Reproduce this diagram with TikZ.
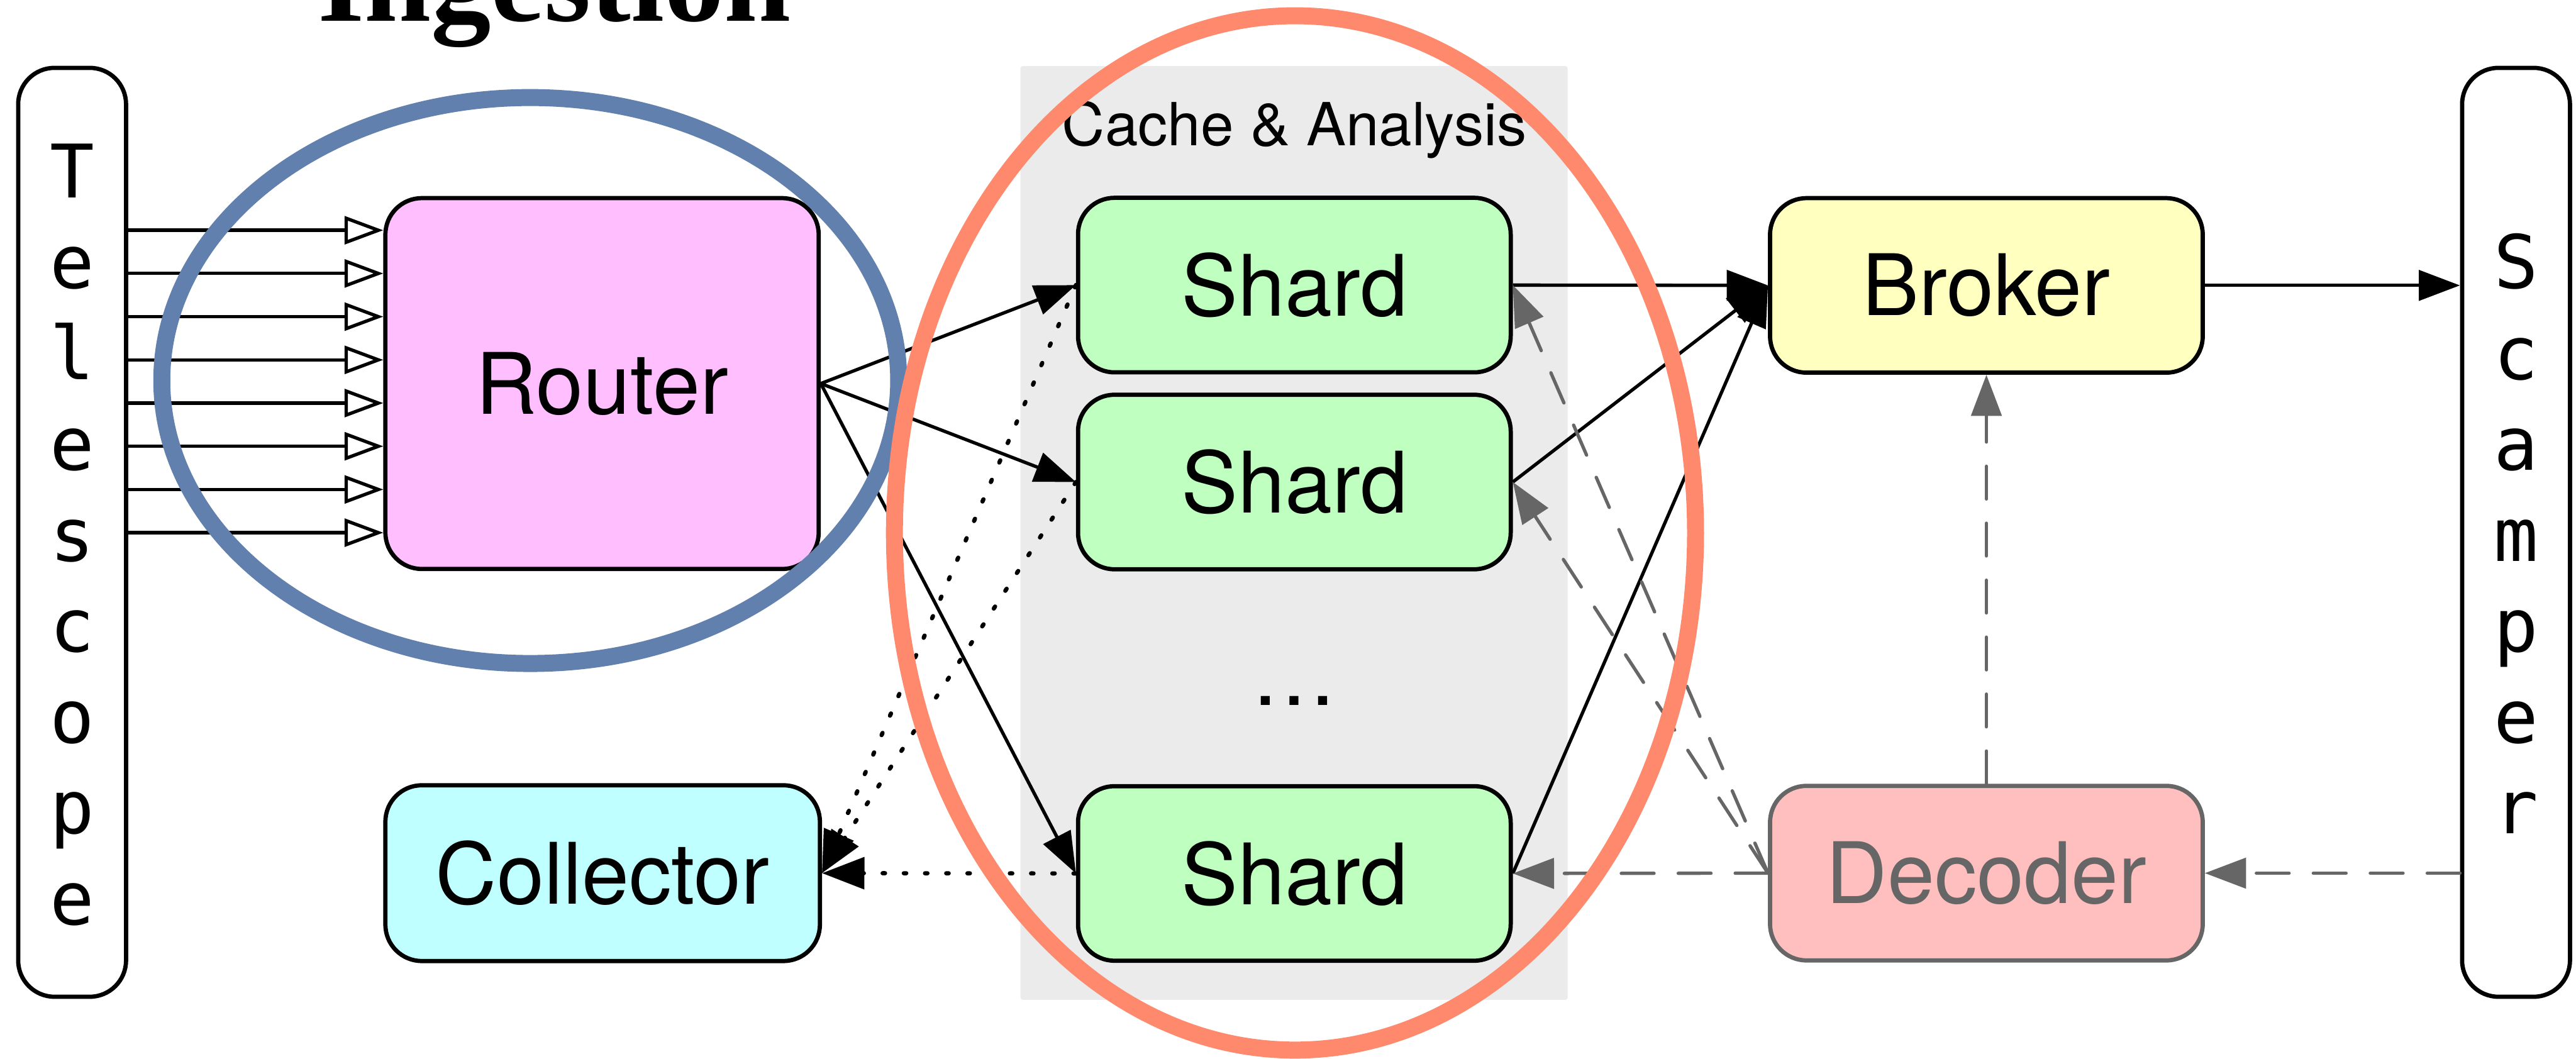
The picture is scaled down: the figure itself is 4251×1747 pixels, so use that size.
\documentclass[tikz,border=0pt]{standalone}
\usepackage{fontspec}
\setmainfont{TeX Gyre Heros}
\newfontfamily\monofont{DejaVu Sans Mono}
\newfontfamily\titlefont{Liberation Serif}
\usetikzlibrary{arrows.meta}

\definecolor{routerfill}{HTML}{FFBFFF}
\definecolor{shardfill}{HTML}{BFFFBF}
\definecolor{collectfill}{HTML}{BFFFFF}
\definecolor{brokerfill}{HTML}{FFFFBF}
\definecolor{decodefill}{HTML}{FFBFBF}
\definecolor{softgray}{HTML}{666666}
\definecolor{regiongray}{HTML}{EBEBEB}
\definecolor{ingestblue}{HTML}{6180AE}
\definecolor{cachesalmon}{HTML}{FE896D}

\begin{document}
\begin{tikzpicture}[x=1pt,y=-1pt,
  box/.style={draw, line width=7pt, rounded corners=60pt, inner sep=0pt,
    minimum width=714pt, minimum height=288pt,
    font=\fontsize{140}{168}\selectfont},
  endpoint/.style={draw, line width=7pt, rounded corners=60pt, fill=white,
    inner sep=0pt, minimum width=178pt, minimum height=1533pt},
  letter/.style={anchor=base, inner sep=0pt, font=\monofont\fontsize{122}{150}\selectfont},
  feed/.style={line width=5.5pt, -{Triangle[fill=white, length=64pt, width=46pt]}},
  flow/.style={line width=5.5pt, -{Triangle[length=68pt, width=50pt]}},
  collect/.style={line width=7pt, dash pattern=on 4pt off 31pt, line cap=round,
    -{Triangle[length=70pt, width=52pt]}},
  feedback/.style={softgray, line width=5.5pt, dash pattern=on 54pt off 40pt, line cap=round,
    -{Triangle[length=68pt, width=50pt]}},
  ring/.style={line width=28pt}
]
\useasboundingbox (0,0) rectangle (4251,1747);
\fill[white] (0,0) rectangle (4251,1747);

% title, its upper part runs past the top edge
\node[anchor=base, inner sep=0pt, font=\titlefont\bfseries\fontsize{198}{230}\selectfont]
  (title) at (915,35) {Ingestion};

% cache & analysis region
\node[fill=regiongray, rounded corners=4pt, inner sep=0pt,
  minimum width=903pt, minimum height=1541pt] (cache) at (2135.5,879.5) {};
\node[anchor=base, inner sep=0pt, font=\fontsize{98}{118}\selectfont]
  (cachelabel) at (2136,240) {Cache \& Analysis};

% end points
\node[endpoint] (telescope) at (119,878.5) {};
\node[endpoint] (scamper) at (4152,878.5) {};
\foreach \ch [count=\k from 0] in {T,e,l,e,s,c,o,p,e}
  \node[letter] (tel\k) at (119,326+150*\k) {\ch};
\foreach \ch [count=\k from 0] in {S,c,a,m,p,e,r}
  \node[letter] (sca\k) at (4152,476+150*\k) {\ch};

% components
\node[box, fill=routerfill, minimum width=715pt, minimum height=612pt] (router) at (993.5,633) {Router};
\node[box, fill=collectfill, minimum width=717pt, minimum height=290pt] (collector) at (994.5,1441) {Collector};
\node[box, fill=shardfill] (shard1) at (2136,470.5) {Shard};
\node[box, fill=shardfill] (shard2) at (2136,795.5) {Shard};
\node[box, fill=shardfill] (shard3) at (2136,1441.5) {Shard};
\node[anchor=base, inner sep=0pt, font=\fontsize{142}{168}\selectfont] (more) at (2136,1164) {…};
\node[box, fill=brokerfill] (broker) at (3278,471) {Broker};
\node[box, draw=softgray, text=softgray, fill=decodefill] (decoder) at (3278,1441) {Decoder};

% telescope feeds into the router
\foreach \i in {0,...,7} {
  \path (telescope.east) ++(0,{380+71.3*\i-878.5}) coordinate (tap\i);
  \draw[feed] (tap\i) -- (tap\i -| router.west);
}

% router to shards
\draw[flow] (router.east) -- (shard1.west);
\draw[flow] (router.east) -- (shard2.west);
\draw[flow] (router.east) -- (shard3.west);

% shards to collector
\draw[collect] (shard1.west) -- (collector.east);
\draw[collect] (shard2.west) -- (collector.east);
\draw[collect] (shard3.west) -- (collector.east);

% shards to broker, broker to scamper
\draw[flow] (shard1.east) -- (broker.west);
\draw[flow] (shard2.east) -- (broker.west);
\draw[flow] (shard3.east) -- (broker.west);
\draw[flow] (broker.east) -- (broker.east -| scamper.west);

% decoder feedback
\draw[feedback] (scamper.west |- decoder.east) -- (decoder.east);
\draw[feedback] (decoder.north) -- (broker.south);
\draw[feedback] (decoder.west) -- (shard1.east);
\draw[feedback] (decoder.west) -- (shard2.east);
\draw[feedback] (decoder.west) -- (shard3.east);

% highlighted groups
\draw[ring, ingestblue] (875,628) ellipse [x radius=608pt, y radius=467pt];
\draw[ring, cachesalmon] (2137,879.5) ellipse [x radius=661pt, y radius=853.5pt];
\end{tikzpicture}
\end{document}
